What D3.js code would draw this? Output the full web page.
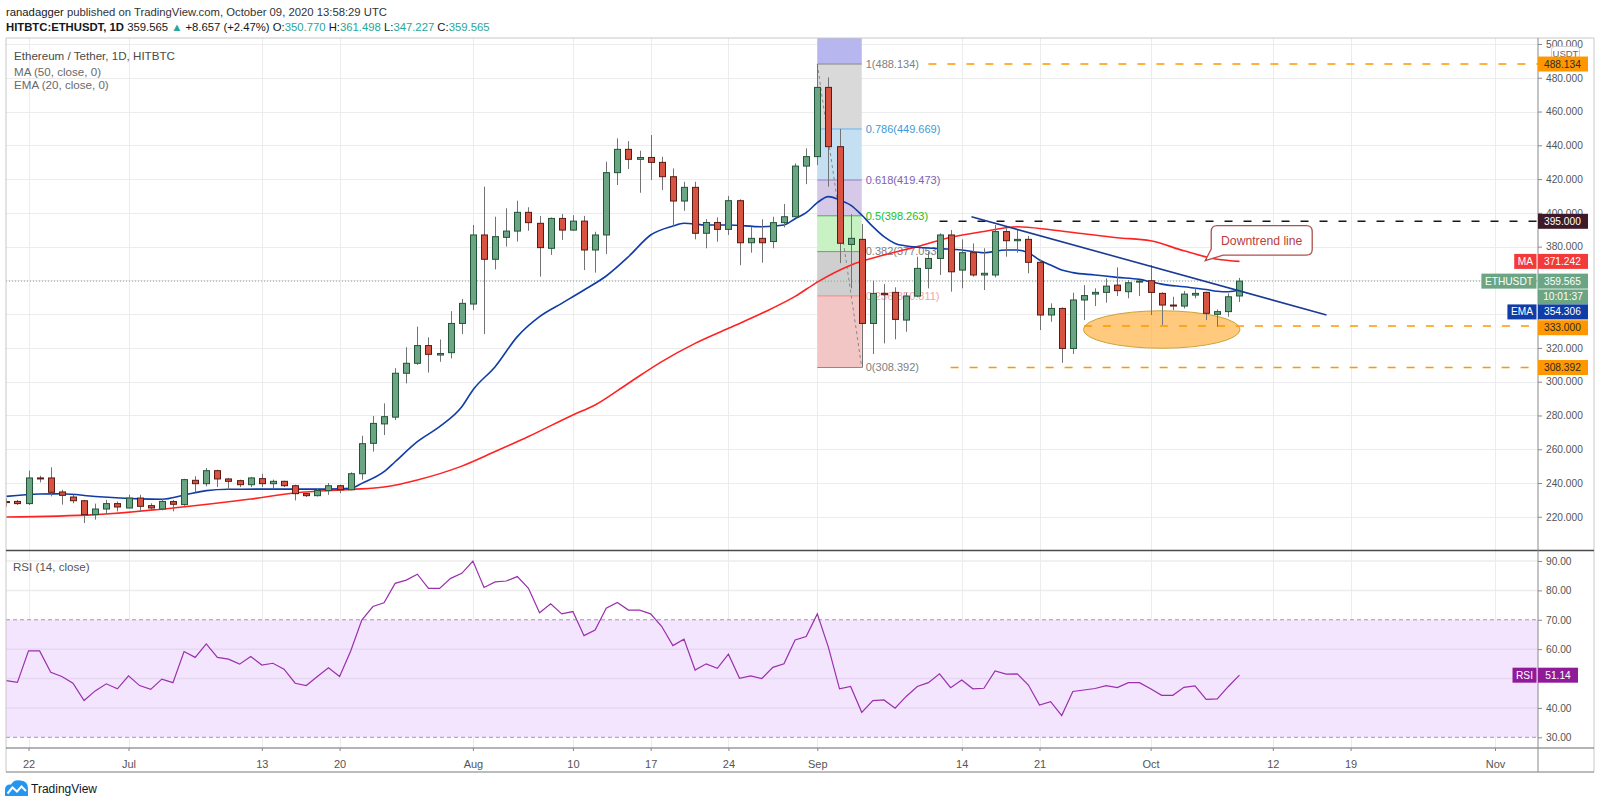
<!DOCTYPE html>
<html>
<head>
<meta charset="utf-8">
<script src="https://cdnjs.cloudflare.com/ajax/libs/d3/7.8.5/d3.min.js"></script>
<style>
  body { margin: 0; background: #fff; }
  svg text { font-family: 'Liberation Sans', Arial, sans-serif; }
</style>
</head>
<body>
<div id="chart"></div>
<script>
// ---- data ----
const startDay = "2020-06-20";

const open = [
  229, 229.1, 227.8, 243, 243, 234.7, 231.7, 229.5, 221.3, 224.6, 227.8,
  225.2, 231.1, 226.6, 224.6, 229, 227.2, 241.6, 239.6, 247.3, 242.4, 241.4, 239, 242.6, 239.6, 241, 238.4, 233.7, 232.5, 235.5, 238.4, 236, 245.5, 263.5, 275, 279, 305, 310.9, 321.4, 315.8, 317.2, 334.5,
  346, 386.9, 372.5, 385.5, 389.2, 400.3, 393.8, 379, 396.7, 389.8, 395.1, 378, 386.9, 423.8, 437.6, 431.7, 432.8, 429.9, 421.4, 407, 415.1, 387.9, 394.3, 390.2, 407.2, 382.3, 384.9, 383, 394.2, 397.7, 427.7,
  433.3, 474.3, 439.2, 381.3, 384.3, 334.5, 352.3, 352.9, 336.5, 350.7, 367.1, 373, 386.9, 366.1, 376.4, 363.2, 363.2, 388.9, 383.5, 384.3, 370.7, 339.5, 343.4, 319.7, 348.4, 351.9, 352.9, 357.2, 353.3, 359,
  359.8, 352.3, 345.4, 344.8, 351.3, 352.9, 339.9, 341.5, 350.77
];
const high = [
  231, 230, 247.3, 244.3, 249.3, 236, 233, 230, 227.8, 230, 229,
  233, 233, 228, 230.7, 230, 242.5, 244, 248.9, 247.9, 243, 242, 243.6, 245.5, 242, 241.4, 239, 234, 237, 240, 239, 246.3, 268, 279.7, 287.2, 308, 320.4, 332.6, 326.3, 325, 341.8, 349,
  392.8, 415.5, 397.7, 402.7, 407.2, 403.3, 398.2, 397.3, 399.3, 398.6, 398.2, 388.8, 430.3, 444.1, 442.5, 436.8, 446.1, 433.2, 426.3, 418.4, 418.4, 396.3, 397.3, 410, 408, 391.8, 396.2, 397.7, 405.2, 429.3, 438.2,
  488.134, 480.2, 449.7, 399.3, 393.4, 359.8, 357.8, 355.9, 352.7, 374, 377, 387.9, 389.8, 384.3, 381.9, 379, 392.8, 390.8, 390.2, 386.3, 372.1, 346.4, 344, 352.7, 357.2, 355.3, 361.2, 367.7, 360.2, 360.2,
  369.1, 353, 350.3, 353.7, 355.3, 353.3, 342.8, 352.3, 361.498
];
const low = [
  226, 227, 227, 240.4, 232.1, 227.2, 228, 216.3, 218.3, 221.3, 223.2,
  225, 223, 224, 223.8, 223.2, 226.5, 234.5, 238, 237.6, 236, 237.6, 237.6, 237.6, 237, 237.6, 229.7, 231.7, 232, 233, 234, 235.7, 242, 258.6, 268.4, 277.3, 299, 310, 305.4, 311.8, 313.8, 328.2,
  342.4, 328.2, 366.5, 380, 383, 389.4, 362.2, 375.1, 384, 389.4, 366.1, 364.6, 375.6, 416.5, 426, 411.9, 419.5, 413.5, 391.8, 401.2, 384.3, 379, 382.9, 386.9, 369, 376.4, 370.5, 379, 391.4, 397.3, 417,
  428.3, 415.5, 370.2, 355.3, 308.392, 316.4, 322.7, 325.1, 329.6, 350, 355.3, 363.2, 353.3, 355.3, 362.2, 354.3, 361.8, 374, 376.4, 364.2, 330.6, 335.5, 311.2, 316.4, 336.5, 344.8, 346.8, 350.7, 349.4, 350.7,
  339.5, 333.6, 342.4, 343.4, 349.4, 336.5, 332.6, 338.5, 347.227
];
const close = [
  228.6, 227.8, 243, 242.6, 234.5, 232.7, 229.5, 221.3, 224.6, 227.8, 225.8,
  231.1, 226.2, 225.2, 229.1, 227.4, 242, 239.6, 247.3, 242.4, 241, 239, 243, 239.6, 241, 238.4, 233.7, 232.5, 235.5, 238.4, 236, 245.5, 263.3, 275.3, 279.3, 305, 310.9, 321.4, 316.2, 316.7, 334.5, 346.4,
  386.9, 372.5, 385.9, 389.2, 400.3, 394.2, 379.4, 396.7, 389.8, 395.1, 378, 386.9, 423.8, 437.6, 431.7, 432.8, 429.9, 421.4, 407, 415.1, 387.9, 394.3, 390.2, 407.2, 382.3, 384.9, 382.3, 394.2, 397.7, 427.7, 433.3,
  474.3, 439.2, 382, 384.9, 334.5, 352.3, 351.5, 336.9, 350.7, 367.1, 373, 386.9, 365.1, 376.4, 363.2, 364.2, 388.9, 383.5, 384.3, 370.7, 339.5, 343.4, 319.7, 348.4, 351, 352.9, 356.6, 353.9, 358.6, 359.6,
  352.9, 345.4, 345, 351.9, 352.3, 340.5, 341.5, 350.3, 359.565
];

// MA 50 read at sample dates
const maDates = ["2020-06-20","2020-06-28","2020-07-05","2020-07-12","2020-07-16","2020-07-21","2020-07-24","2020-07-27","2020-07-31",
  "2020-08-03","2020-08-06","2020-08-10","2020-08-12","2020-08-15","2020-08-18","2020-08-21","2020-08-24","2020-08-27","2020-08-30",
  "2020-09-01","2020-09-04","2020-09-07","2020-09-10","2020-09-13","2020-09-16","2020-09-19","2020-09-22","2020-09-25","2020-09-28",
  "2020-10-01","2020-10-04","2020-10-07","2020-10-09"];
const maValues = [219.9, 221.3, 225.2, 230.5, 234.1, 236.2, 237.6, 241.8, 250.0,
  258.6, 267.5, 280.3, 286.2, 299.1, 311.9, 322.7, 331.6, 340.5, 350.5,
  359.0, 369.0, 375.0, 380.0, 385.5, 389.0, 391.8, 390.0, 387.6, 385.3,
  383.5, 377.5, 372.5, 371.242];

// EMA 20 read at sample dates
const emaDates = ["2020-06-20","2020-06-23","2020-06-25","2020-06-28","2020-07-02","2020-07-04","2020-07-06","2020-07-08","2020-07-10",
  "2020-07-15","2020-07-19","2020-07-21","2020-07-22","2020-07-24","2020-07-25","2020-07-27","2020-07-29","2020-07-31",
  "2020-08-01","2020-08-03","2020-08-05","2020-08-07","2020-08-09","2020-08-11","2020-08-13","2020-08-15","2020-08-17","2020-08-19",
  "2020-08-20","2020-08-22","2020-08-24","2020-08-27","2020-08-29","2020-08-30","2020-08-31",
  "2020-09-01","2020-09-02","2020-09-03","2020-09-04","2020-09-05","2020-09-06","2020-09-07","2020-09-08","2020-09-09","2020-09-10",
  "2020-09-12","2020-09-14","2020-09-16","2020-09-18","2020-09-19","2020-09-20","2020-09-21","2020-09-22","2020-09-23","2020-09-24",
  "2020-09-26","2020-09-28","2020-09-30","2020-10-01","2020-10-02","2020-10-04","2020-10-06","2020-10-07","2020-10-08","2020-10-09"];
const emaValues = [232.1, 233.5, 233.6, 232.0, 230.6, 230.4, 232.8, 235.5, 236.3,
  236.4, 236.4, 236.8, 239.8, 246.7, 252.6, 264.5, 273.4, 285.2,
  295.1, 308.9, 326.7, 338.5, 346.4, 354.3, 362.6, 374.0, 386.9, 392.2,
  393.8, 392.8, 392.8, 391.8, 392.8, 396.5, 400.1,
  406.0, 409.6, 407.6, 404.6, 398.7, 391.8, 385.9, 381.9, 380.4, 379.6,
  378.8, 378.0, 376.4, 378.0, 378.0, 376.4, 372.1, 369.1, 366.1, 364.6,
  363.2, 361.8, 360.6, 359.2, 357.8, 356.2, 354.6, 353.6, 353.3, 354.306];

// RSI 14, one value per day from startDay
const rsiValues = [
  49.3, 48.7, 59.4, 59.4, 52.1, 50.7, 48.4, 42.5, 45.8, 48.2, 46.5,
  50.9, 47.6, 46.3, 49.8, 48.6, 59.2, 57.2, 61.8, 57.2, 56.6, 54.9, 57.5, 54.6, 55.2, 53.2, 48.4, 47.6, 50.7, 53.7, 50.7, 59.4, 69.9, 74.5, 75.8, 82.4, 83.5, 85.5, 80.7, 80.7, 84.1, 85.8,
  90, 81, 82.9, 83.2, 84.7, 80.7, 72.4, 75.4, 72, 72.8, 64.6, 66.5, 73.9, 75.9, 73.3, 73.3, 72, 67.7, 61.2, 63.4, 52.9, 55, 53.5, 58.3, 50.1, 50.9, 50, 53.8, 55, 63.1, 64.3,
  72, 60.6, 46.5, 47.3, 38.5, 42.5, 42.7, 39.9, 43.9, 47.3, 48.6, 51.6, 46.9, 49.5, 46.5, 46.7, 52.6, 51.5, 51.6, 47.8, 41, 42.1, 37.4, 45.6, 46.1, 46.6, 47.6, 46.9, 48.6, 48.6,
  46.5, 44.3, 44.3, 47, 47.5, 42.9, 43.1, 47.3, 51.14
];

const timeTickDates = ["2020-06-22","2020-07-01","2020-07-13","2020-07-20","2020-08-01","2020-08-10","2020-08-17","2020-08-24",
  "2020-09-01","2020-09-14","2020-09-21","2020-10-01","2020-10-12","2020-10-19","2020-11-01"];
const timeTickLabels = ["22","Jul","13","20","Aug","10","17","24","Sep","14","21","Oct","12","19","Nov"];
const priceTicks = [220, 240, 260, 280, 300, 320, 340, 360, 380, 400, 420, 440, 460, 480, 500];
const rsiTicks = [30, 40, 50, 60, 70, 80, 90];

// drawings
const fibStart = "2020-09-01", fibEnd = "2020-09-05";
const fibHigh = 488.134, fibLow = 308.392;
const fibLevels = [0, 0.236, 0.382, 0.5, 0.618, 0.786, 1, 1.618];
const hLinePrices = [488.134, 395.0, 333.0, 308.392];
const hLineStarts = ["2020-09-11", "2020-09-12", "2020-09-25", "2020-09-13"];
const trendDates = ["2020-09-14T21:00:00Z", "2020-10-16T20:00:00Z"];
const trendPrices = [397.7, 339.5];
const zoneCenterDate = "2020-10-02", zoneCenterPrice = 330.9, zoneHalfDays = 7.05, zoneHalfPrice = 11.1;
const calloutDate = "2020-10-05T22:00:00Z", calloutPrice = 371.7, calloutText = "Downtrend line";
const lastPrice = 359.565, maLast = 371.242, emaLast = 354.306, rsiLast = 51.14;

// ---- layout ----
const W = 1600, H = 805;
const L = 6, R = 1538, T = 38, PB = 550, RT = 551, RB = 748, AB = 772, OR = 1594;
const FONT = "'Liberation Sans', Arial, sans-serif";
const AX = 10.2;  // axis label size

const parse = d3.utcParse("%Y-%m-%d");
const day0 = parse(startDay);
const dates = close.map((_, i) => d3.utcDay.offset(day0, i));
const candles = dates.map((d, i) => ({date: d, o: open[i], h: high[i], l: low[i], c: close[i]}));

const x = d3.scaleUtc().domain([day0, parse("2020-11-01")]).range([6.3, 1495]);
const pxDay = x(d3.utcDay.offset(day0, 1)) - x(day0);
const y = d3.scaleLinear().domain([300, 500]).range([381.7, 44]);
const yr = d3.scaleLinear().domain([30, 90]).range([737.3, 561]);

const svg = d3.select("#chart").append("svg")
    .attr("width", W).attr("height", H)
    .style("font-family", FONT);

svg.append("rect").attr("width", W).attr("height", H).attr("fill", "#fff");

const defs = svg.append("defs");
defs.append("clipPath").attr("id", "clipP").append("rect")
    .attr("x", L).attr("y", T).attr("width", R - L).attr("height", PB - T);
defs.append("clipPath").attr("id", "clipR").append("rect")
    .attr("x", L).attr("y", RT).attr("width", R - L).attr("height", RB - RT);

// ---- header ----
const h1 = svg.append("text").attr("x", 6).attr("y", 16).attr("font-size", 11.3).attr("fill", "#333");
h1.append("tspan").attr("fill", "#131722").text("ranadagger");
h1.append("tspan").text(" published on TradingView.com, October 09, 2020 13:58:29 UTC");

const teal = "#26a69a";
const h2 = svg.append("text").attr("x", 6).attr("y", 30.5).attr("font-size", 11.3).attr("fill", "#131722");
h2.append("tspan").attr("font-weight", "bold").text("HITBTC:ETHUSDT, 1D");
h2.append("tspan").text("  359.565 ");
h2.append("tspan").attr("fill", teal).text("▲");
h2.append("tspan").text(" +8.657 (+2.47%) O:");
h2.append("tspan").attr("fill", teal).text("350.770");
h2.append("tspan").text(" H:");
h2.append("tspan").attr("fill", teal).text("361.498");
h2.append("tspan").text(" L:");
h2.append("tspan").attr("fill", teal).text("347.227");
h2.append("tspan").text(" C:");
h2.append("tspan").attr("fill", teal).text("359.565");

// ---- grid ----
const grid = svg.append("g").attr("stroke", "#ececec").attr("stroke-width", 1);
timeTickDates.forEach(s => {
  const gx = Math.round(x(parse(s))) + 0.5;
  grid.append("line").attr("x1", gx).attr("x2", gx).attr("y1", T).attr("y2", PB);
  grid.append("line").attr("x1", gx).attr("x2", gx).attr("y1", RT).attr("y2", RB);
});
priceTicks.forEach(p => {
  const gy = Math.round(y(p)) + 0.5;
  if (gy > T && gy < PB) grid.append("line").attr("x1", L).attr("x2", R).attr("y1", gy).attr("y2", gy);
});

// ---- price pane ----
const pane = svg.append("g").attr("clip-path", "url(#clipP)");

// fibonacci retracement
const fx0 = x(parse(fibStart)), fx1 = x(parse(fibEnd));
const fibPrice = lv => fibLow + lv * (fibHigh - fibLow);
const fibFill = ["#f3c6c6", "#cfcfcf", "#c8f1c4", "#d5c9e7", "#c4dff2", "#d9d9d9", "#b8b6ef"];
const fibLine = ["#8a8a8a", "#f28b82", "#8a8a8a", "#4caf50", "#8e7cc3", "#64b5f6", "#8a8a8a", "#7e7ee6"];
const fibText = ["#808080", "#f4a6a6", "#808080", "#22c022", "#7b62b3", "#3d9ad6", "#808080", "#6060d0"];
for (let i = 0; i < fibLevels.length - 1; i++) {
  pane.append("rect")
    .attr("x", fx0).attr("width", fx1 - fx0)
    .attr("y", y(fibPrice(fibLevels[i + 1])))
    .attr("height", y(fibPrice(fibLevels[i])) - y(fibPrice(fibLevels[i + 1])))
    .attr("fill", fibFill[i]);
}
fibLevels.forEach((lv, i) => {
  const py = y(fibPrice(lv));
  if (py < T) return;   // 1.618 sits above the pane
  pane.append("line").attr("x1", fx0).attr("x2", fx1).attr("y1", py).attr("y2", py)
    .attr("stroke", fibLine[i]).attr("stroke-width", 1);
  pane.append("text").attr("x", fx1 + 4).attr("y", py).attr("dy", "0.35em")
    .attr("font-size", 11).attr("fill", fibText[i])
    .text(`${lv}(${fibPrice(lv).toFixed(3)})`);
});
pane.append("line")
  .attr("x1", fx0).attr("y1", y(fibHigh)).attr("x2", fx1).attr("y2", y(fibLow))
  .attr("stroke", "#888").attr("stroke-width", 1).attr("stroke-dasharray", "3,3");

// support zone ellipse
const zcx = x(parse(zoneCenterDate)), zcy = y(zoneCenterPrice);
pane.append("ellipse")
  .attr("cx", zcx).attr("cy", zcy)
  .attr("rx", zoneHalfDays * pxDay)
  .attr("ry", y(zoneCenterPrice - zoneHalfPrice) - zcy)
  .attr("fill", "#ffb347").attr("fill-opacity", 0.7)
  .attr("stroke", "#c9a43c").attr("stroke-width", 1);

// horizontal levels
const hLineColors = ["#ff9800", "#131722", "#ff9800", "#ff9800"];
hLinePrices.forEach((p, i) => {
  pane.append("line")
    .attr("x1", x(parse(hLineStarts[i]))).attr("x2", R)
    .attr("y1", y(p)).attr("y2", y(p))
    .attr("stroke", hLineColors[i]).attr("stroke-width", 1.5)
    .attr("stroke-dasharray", "8,11");
});

// last price dotted line
pane.append("line").attr("x1", L).attr("x2", R)
  .attr("y1", y(lastPrice)).attr("y2", y(lastPrice))
  .attr("stroke", "#7fa895").attr("stroke-width", 1).attr("stroke-dasharray", "1,2");

// moving averages
const lineGen = d3.line().x(d => x(d[0])).y(d => y(d[1])).curve(d3.curveMonotoneX);
pane.append("path")
  .datum(maDates.map((s, i) => [parse(s), maValues[i]]))
  .attr("d", lineGen).attr("fill", "none").attr("stroke", "#ff2222").attr("stroke-width", 1.6);
pane.append("path")
  .datum(emaDates.map((s, i) => [parse(s), emaValues[i]]))
  .attr("d", lineGen).attr("fill", "none").attr("stroke", "#0f3ca6").attr("stroke-width", 1.6);

// candles
const bw = Math.round(pxDay * 0.64);
const cg = pane.selectAll("g.candle").data(candles).enter().append("g").attr("class", "candle");
cg.append("line")
  .attr("x1", d => Math.round(x(d.date)) + 0.5).attr("x2", d => Math.round(x(d.date)) + 0.5)
  .attr("y1", d => y(d.h)).attr("y2", d => y(d.l))
  .attr("stroke", "#737375").attr("stroke-width", 1);
cg.append("rect")
  .attr("x", d => Math.round(x(d.date)) - Math.floor(bw / 2) + 0.5)
  .attr("width", bw - 1)
  .attr("y", d => y(Math.max(d.o, d.c)))
  .attr("height", d => Math.max(1, Math.abs(y(d.o) - y(d.c))))
  .attr("fill", d => d.c >= d.o ? "#6ba583" : "#d75442")
  .attr("stroke", d => d.c >= d.o ? "#225437" : "#5b1a13")
  .attr("stroke-width", 1);

// downtrend line
pane.append("line")
  .attr("x1", x(d3.isoParse(trendDates[0]))).attr("y1", y(trendPrices[0]))
  .attr("x2", x(d3.isoParse(trendDates[1]))).attr("y2", y(trendPrices[1]))
  .attr("stroke", "#1a3b95").attr("stroke-width", 1.6);

// callout
const tx = x(d3.isoParse(calloutDate)), ty = y(calloutPrice);
const bx0 = tx + 6, bx1 = tx + 107, by0 = ty - 35, by1 = ty - 5.5, rr = 6;
pane.append("path")
  .attr("d", `M${bx0 + rr},${by0} H${bx1 - rr} Q${bx1},${by0} ${bx1},${by0 + rr} V${by1 - rr} Q${bx1},${by1} ${bx1 - rr},${by1}
    H${bx0 + 12} L${tx},${ty} L${bx0},${by1 - 6} V${by0 + rr} Q${bx0},${by0} ${bx0 + rr},${by0} Z`)
  .attr("fill", "#fff").attr("stroke", "#b0504e").attr("stroke-width", 1.3);
pane.append("text").attr("x", (bx0 + bx1) / 2).attr("y", (by0 + by1) / 2).attr("dy", "0.35em")
  .attr("text-anchor", "middle").attr("font-size", 12.2).attr("fill", "#b8403c").text(calloutText);

// legend
svg.append("text").attr("x", 14).attr("y", 59.5).attr("font-size", 11.6).attr("fill", "#4a4a4a").text("Ethereum / Tether, 1D, HITBTC");
svg.append("text").attr("x", 14).attr("y", 75.5).attr("font-size", 11.6).attr("fill", "#6a6a6a").text("MA (50, close, 0)");
svg.append("text").attr("x", 14).attr("y", 88.5).attr("font-size", 11.6).attr("fill", "#6a6a6a").text("EMA (20, close, 0)");

// ---- RSI pane ----
const rp = svg.append("g").attr("clip-path", "url(#clipR)");
rp.append("rect").attr("x", L).attr("width", R - L)
  .attr("y", yr(70)).attr("height", yr(30) - yr(70)).attr("fill", "#f3e5fd");
[40, 50, 60, 80, 90].forEach(v => {
  rp.append("line").attr("x1", L).attr("x2", R).attr("y1", yr(v)).attr("y2", yr(v))
    .attr("stroke", v === 80 || v === 90 ? "#ececec" : "#e6d8f0").attr("stroke-width", 1.5);
});
[70, 30].forEach(v => {
  rp.append("line").attr("x1", L).attr("x2", R).attr("y1", yr(v)).attr("y2", yr(v))
    .attr("stroke", "#a894b4").attr("stroke-width", 1).attr("stroke-dasharray", "4,3");
});
rp.append("path")
  .datum(rsiValues.map((v, i) => [dates[i], v]))
  .attr("d", d3.line().x(d => x(d[0])).y(d => yr(d[1])))
  .attr("fill", "none").attr("stroke", "#9b2fae").attr("stroke-width", 1.2);
svg.append("text").attr("x", 13).attr("y", 570.5).attr("font-size", 11.6).attr("fill", "#555").text("RSI (14, close)");

// ---- frame ----
const frame = svg.append("g").attr("fill", "none");
frame.append("line").attr("x1", L).attr("x2", OR).attr("y1", T).attr("y2", T).attr("stroke", "#c8c8c8");
frame.append("line").attr("x1", L).attr("x2", L).attr("y1", T).attr("y2", AB).attr("stroke", "#c8c8c8");
frame.append("line").attr("x1", OR).attr("x2", OR).attr("y1", T).attr("y2", AB).attr("stroke", "#c8c8c8");
frame.append("line").attr("x1", L).attr("x2", OR).attr("y1", PB + 0.5).attr("y2", PB + 0.5).attr("stroke", "#4a4a4a").attr("stroke-width", 1.5);
frame.append("line").attr("x1", L).attr("x2", OR).attr("y1", RB).attr("y2", RB).attr("stroke", "#6a6a6a").attr("stroke-width", 1.2);
frame.append("line").attr("x1", L).attr("x2", OR).attr("y1", AB).attr("y2", AB).attr("stroke", "#7a7a7a").attr("stroke-width", 1.2);
frame.append("line").attr("x1", R).attr("x2", R).attr("y1", T).attr("y2", AB).attr("stroke", "#8a8a8a");

// ---- time axis ----
const xAxis = d3.axisBottom(x)
  .tickValues(timeTickDates.map(parse))
  .tickFormat((d, i) => timeTickLabels[i])
  .tickSize(3);
const xg = svg.append("g").attr("transform", `translate(0,${RB})`).call(xAxis);
xg.select(".domain").remove();
xg.selectAll(".tick line").attr("stroke", "#888");
xg.selectAll(".tick text").attr("font-size", 11).attr("fill", "#555").attr("font-family", FONT).attr("y", 12);

// ---- price axis ----
const coveredPrices = [340, 360];  // hidden behind value boxes in the picture
const yAxis = d3.axisRight(y).tickValues(priceTicks).tickFormat(d3.format(".3f")).tickSize(4);
const yg = svg.append("g").attr("transform", `translate(${R},0)`).call(yAxis);
yg.select(".domain").remove();
yg.selectAll(".tick line").attr("stroke", "#888");
yg.selectAll(".tick text").attr("font-size", AX).attr("fill", "#555").attr("font-family", FONT).attr("x", 8)
  .filter(d => coveredPrices.includes(d)).remove();

const rAxis = d3.axisRight(yr).tickValues(rsiTicks).tickFormat(d3.format(".2f")).tickSize(4);
const rg = svg.append("g").attr("transform", `translate(${R},0)`).call(rAxis);
rg.select(".domain").remove();
rg.selectAll(".tick line").attr("stroke", "#888");
rg.selectAll(".tick text").attr("font-size", AX).attr("fill", "#555").attr("font-family", FONT).attr("x", 8)
  .filter(d => d === 50).remove();

// USDT tag
svg.append("rect").attr("x", 1551.5).attr("y", 46.5).attr("width", 28).attr("height", 13.5).attr("rx", 3)
  .attr("fill", "#fff").attr("stroke", "#d0d0d0");
svg.append("text").attr("x", 1565.5).attr("y", 53.3).attr("dy", "0.35em").attr("text-anchor", "middle")
  .attr("font-size", 9.5).attr("fill", "#666").text("USDT");

// value boxes on the price axis (stacked so they do not overlap)
const boxes = [
  {v: 488.134, fill: "#ff9800", ink: "#2a2a2a"},
  {v: 395.0, fill: "#3d1a26", ink: "#fff"},
  {v: maLast, fill: "#f23a3a", ink: "#fff", tag: "MA"},
  {v: lastPrice, fill: "#6ba583", ink: "#fff", tag: "ETHUSDT", extra: "10:01:37"},
  {v: emaLast, fill: "#0f3ca6", ink: "#fff", tag: "EMA"},
  {v: 333.0, fill: "#ff9800", ink: "#2a2a2a"},
  {v: 308.392, fill: "#ff9800", ink: "#2a2a2a"}
];
const bh = 15;
let prevBottom = -Infinity;
boxes.forEach(b => {
  let top = y(b.v) - bh / 2;
  if (top < prevBottom) top = prevBottom;
  b.top = top;
  prevBottom = top + bh * (b.extra ? 2 : 1) + 0.8;
});
const bxg = svg.append("g");
function tagBox(label, top, fill, ink) {
  const t = bxg.append("text").attr("y", top + bh / 2).attr("dy", "0.35em").attr("text-anchor", "middle")
    .attr("font-size", AX).attr("fill", ink).text(label);
  const tw = t.node().getComputedTextLength() + 7;
  t.attr("x", R - 1.5 - tw / 2);
  bxg.insert("rect", () => t.node()).attr("x", R - 1.5 - tw).attr("y", top).attr("width", tw).attr("height", bh).attr("fill", fill);
}
boxes.forEach(b => {
  bxg.append("rect").attr("x", R).attr("y", b.top).attr("width", 50).attr("height", bh).attr("fill", b.fill);
  bxg.append("text").attr("x", R + 6).attr("y", b.top + bh / 2).attr("dy", "0.35em")
    .attr("font-size", AX).attr("fill", b.ink).text(b.v.toFixed(3));
  if (b.extra) {
    bxg.append("rect").attr("x", R).attr("y", b.top + bh + 0.8).attr("width", 50).attr("height", bh).attr("fill", b.fill);
    bxg.append("text").attr("x", R + 25).attr("y", b.top + bh * 1.5 + 0.8).attr("dy", "0.35em").attr("text-anchor", "middle")
      .attr("font-size", AX).attr("fill", b.ink).text(b.extra);
  }
  if (b.tag) tagBox(b.tag, b.top, b.fill, b.ink);
});

// RSI value box
const rsiTop = yr(rsiLast) - bh / 2;
bxg.append("rect").attr("x", R).attr("y", rsiTop).attr("width", 40).attr("height", bh).attr("fill", "#8f1b99");
bxg.append("text").attr("x", R + 20).attr("y", rsiTop + bh / 2).attr("dy", "0.35em").attr("text-anchor", "middle")
  .attr("font-size", AX).attr("fill", "#fff").text(rsiLast.toFixed(2));
tagBox("RSI", rsiTop, "#8f1b99", "#fff");

// ---- TradingView mark ----
const logo = svg.append("g");
logo.append("path")
  .attr("d", "M5,796 L5,790 Q5,784 11,784.5 Q14,779 20.5,780.5 Q28,781 28,788.5 L28,796 Z")
  .attr("fill", "#2196f3");
logo.append("path").attr("d", "M7.5,793.5 L12.5,787.5 L17,791.5 L21.5,786.5 L26,791")
  .attr("fill", "none").attr("stroke", "#fff").attr("stroke-width", 2);
logo.append("text").attr("x", 31).attr("y", 793).attr("font-size", 12).attr("fill", "#131722").text("TradingView");
</script>
</body>
</html>
